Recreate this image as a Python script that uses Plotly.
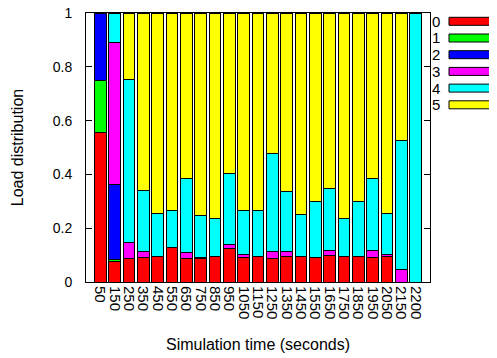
import plotly.graph_objects as go

categories = ["50", "150", "250", "350", "450", "550", "650", "750", "850", "950",
              "1050", "1150", "1250", "1350", "1450", "1550", "1650", "1750", "1850",
              "1950", "2050", "2150", "2200"]

series_names = ["0", "1", "2", "3", "4", "5"]
series_colors = ["#ff0000", "#00ff00", "#0000ff", "#ff00ff", "#00ffff", "#ffff00"]

s0 = [0.555, 0.075, 0.087, 0.092, 0.093, 0.130, 0.089, 0.088, 0.094, 0.126, 0.092, 0.094,
      0.088, 0.093, 0.094, 0.092, 0.100, 0.094, 0.093, 0.090, 0.094, 0.0, 0.0]
s1 = [0.195, 0.007, 0, 0, 0, 0, 0, 0, 0, 0, 0, 0, 0, 0, 0, 0, 0, 0, 0, 0, 0, 0, 0]
s2 = [0.250, 0.279, 0, 0, 0, 0, 0, 0, 0, 0, 0, 0, 0, 0, 0, 0, 0, 0, 0, 0, 0, 0, 0]
s3 = [0.0, 0.530, 0.061, 0.020, 0.0, 0.0, 0.020, 0.003, 0.0, 0.013, 0.011, 0.0,
      0.025, 0.020, 0.0, 0.0, 0.016, 0.0, 0.0, 0.028, 0.009, 0.045, 0.0]
s4 = [0.0, 0.109, 0.604, 0.230, 0.160, 0.136, 0.275, 0.156, 0.143, 0.266, 0.162, 0.170,
      0.364, 0.225, 0.158, 0.209, 0.232, 0.141, 0.208, 0.266, 0.152, 0.482, 1.0]
s5 = [0.0, 0.0, 0.248, 0.658, 0.747, 0.734, 0.616, 0.753, 0.763, 0.595, 0.735, 0.736,
      0.523, 0.662, 0.748, 0.699, 0.652, 0.765, 0.699, 0.616, 0.745, 0.473, 0.0]

series = [s0, s1, s2, s3, s4, s5]
y_ticks = [0, 0.2, 0.4, 0.6, 0.8, 1]
y_tick_text = ["0", "0.2", "0.4", "0.6", "0.8", "1"]

FONT = "Liberation Sans, Arial, sans-serif"

# plot area (in page pixels, the page body adds an 8px offset)
PW, PH = 344, 269

fig = go.Figure()
for name, color, vals in zip(series_names, series_colors, series):
    fig.add_trace(go.Bar(
        x=categories, y=vals, name=name,
        marker=dict(color=color, line=dict(color="black", width=1)),
        showlegend=False,
    ))

# gnuplot-style key: label on the left, coloured box on the right
for i, (name, color) in enumerate(zip(series_names, series_colors)):
    yc = 21.3 + i * 16.7 - 13
    fig.add_shape(type="rect", xref="paper", yref="paper",
                  x0=(449 - 86) / PW, x1=(520 - 86) / PW,
                  y0=(PH - (yc + 4)) / PH, y1=(PH - (yc - 4)) / PH,
                  fillcolor=color, line=dict(color="black", width=1))
    fig.add_annotation(text=name, xref="paper", yref="paper",
                       x=(430 - 86) / PW, y=(PH - yc) / PH,
                       xanchor="left", yanchor="middle", showarrow=False,
                       font=dict(family=FONT, size=15, color="black"))

fig.update_layout(
    width=489, height=350,
    margin=dict(l=78, r=489 - 78 - PW, t=5, b=350 - 5 - PH),
    barmode="stack", bargap=0.2,
    plot_bgcolor="white", paper_bgcolor="white",
    font=dict(family=FONT, size=15, color="black"),
    xaxis=dict(
        type="category", range=[-1, 23], tickangle=90,
        tickmode="array", tickvals=categories, ticktext=categories,
        showline=True, linecolor="black", linewidth=1, mirror=True,
        ticks="", showgrid=False, automargin=False,
        title=dict(text="Simulation time (seconds)", font=dict(size=16), standoff=20),
        tickfont=dict(size=15),
    ),
    yaxis=dict(
        range=[0, 1], tickvals=y_ticks, ticktext=y_tick_text,
        showline=True, linecolor="black", linewidth=1, mirror="ticks",
        ticks="inside", ticklen=6, tickcolor="black", showgrid=False, zeroline=False,
        automargin=False, ticklabelstandoff=10, ticklabeloverflow="allow",
        title=dict(text="Load distribution", font=dict(size=16), standoff=25),
        tickfont=dict(size=14),
    ),
)

fig.write_html("out.html")
